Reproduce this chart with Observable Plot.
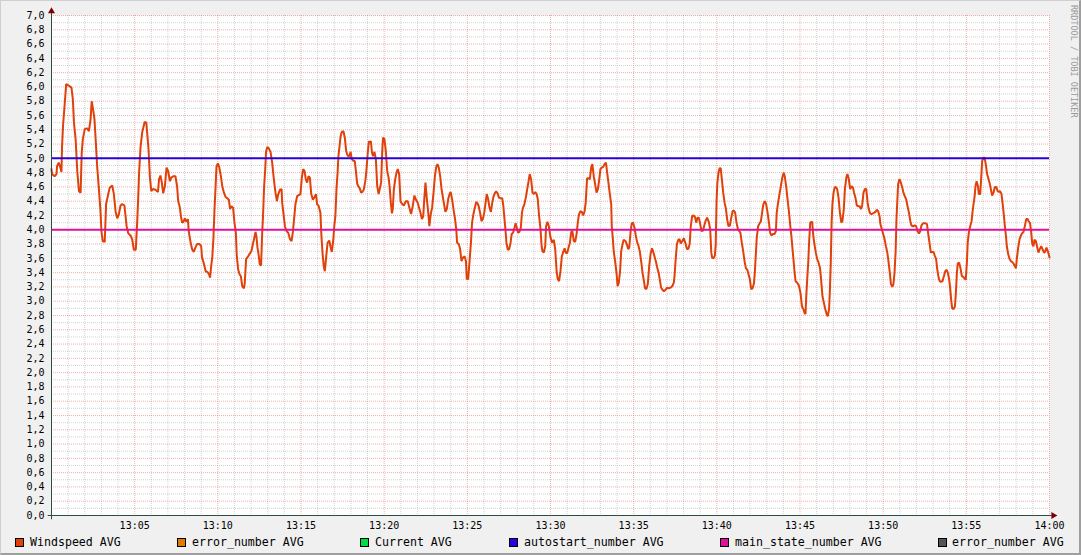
<!DOCTYPE html>
<html><head><meta charset="utf-8">
<script src="https://cdn.jsdelivr.net/npm/d3@7"></script>
<script src="https://cdn.jsdelivr.net/npm/@observablehq/plot@0.6"></script>
<style>
html,body{margin:0;padding:0;background:#f0f0f0;}
#wrap{position:relative;width:1081px;height:555px;overflow:hidden;background:#f0f0f0;font-family:"DejaVu Sans Mono",monospace;}
#chart{position:absolute;left:0;top:0;}
#chart svg{display:block;}
.frame{position:absolute;left:0;top:0;width:1081px;height:555px;box-sizing:border-box;border-style:solid;border-width:1px 2px 2px 1px;border-color:#cfcfcf #9e9e9e #9e9e9e #cfcfcf;pointer-events:none;}
.wm{position:absolute;left:1079px;top:5px;transform-origin:0 0;transform:rotate(90deg);font-size:8.5px;line-height:10px;color:#9a9a9a;white-space:nowrap;font-family:"DejaVu Sans Mono",monospace;}
.sw{position:absolute;top:538px;width:7px;height:7px;border:1px solid #000;}
.lt{position:absolute;top:536px;font-size:11.6px;line-height:12px;color:#000;white-space:pre;font-family:"DejaVu Sans Mono",monospace;}
</style></head>
<body>
<div id="wrap"><div id="chart"></div></div>
<script>
// seconds after 13:00, windspeed value
const windspeedA = [[0,4.85],[2,4.78],[11,4.75],[18,4.78],[20,4.89],[26,4.94],[32,4.87],[36,4.81],[38,5.17],[42,5.48],[47,5.73],[53,6.04],[62,6.02],[72,5.99],[77,5.83],[81,5.50],[87,5.27],[93,4.82],[99,4.54],[105,4.52],[109,5.08],[113,5.27],[120,5.41],[129,5.42],[135,5.38],[141,5.55],[145,5.80],[150,5.69],[155,5.55],[160,5.22],[165,4.87],[171,4.57],[177,4.24],[180,3.98],[185,3.84],[192,3.83],[197,4.36],[203,4.47],[210,4.59],[219,4.62],[225,4.50],[231,4.26],[237,4.16],[243,4.22],[249,4.34],[255,4.36],[263,4.34],[271,4.05],[277,3.95],[285,3.92],[291,3.87],[297,3.72],[304,3.72],[309,4.10],[313,4.47],[316,4.80],[321,5.15],[327,5.36],[336,5.51],[342,5.50],[345,5.36],[350,5.13],[355,4.73],[360,4.54],[366,4.57],[375,4.56],[384,4.53],[388,4.71],[393,4.76],[398,4.66],[403,4.51],[409,4.61],[415,4.87],[421,4.82],[427,4.68],[432,4.73],[439,4.75]];
const windspeedB = [[447,4.75],[453,4.61],[457,4.40],[462,4.33],[467,4.19],[471,4.10],[476,4.11],[481,4.16],[487,4.11],[492,4.15],[495,3.98],[501,3.84],[507,3.73],[513,3.69],[519,3.75],[525,3.80],[534,3.80],[540,3.77],[543,3.61],[550,3.52],[556,3.42],[562,3.41],[568,3.38],[572,3.33],[576,3.49],[580,3.62],[584,3.87],[588,4.29],[592,4.61],[595,4.88],[600,4.93],[605,4.88],[611,4.75],[616,4.61],[622,4.52],[628,4.46],[634,4.44],[640,4.42],[644,4.29],[649,4.33],[655,4.31],[660,4.10],[665,3.96],[668,3.66],[673,3.45],[678,3.38],[683,3.35],[688,3.21],[694,3.18],[697,3.25],[702,3.59],[708,3.62],[714,3.66],[721,3.70],[726,3.79],[731,3.88],[736,3.97],[739,3.91],[743,3.75],[748,3.63],[751,3.52],[756,3.50],[760,3.96],[763,4.19],[767,4.61],[771,4.85],[774,5.10],[779,5.16],[784,5.14],[790,5.09],[796,4.94],[802,4.71],[808,4.52],[813,4.40],[818,4.50],[824,4.56],[830,4.57],[832,4.38],[837,4.22],[842,4.05],[848,3.98],[854,3.96],[860,3.87],[866,3.84],[871,3.98],[875,4.15],[880,4.36],[886,4.47]];
const windspeedC = [[898,4.50],[903,4.73],[908,4.85],[913,4.82],[917,4.71],[922,4.66],[927,4.75],[932,4.73],[937,4.50],[943,4.42],[949,4.46],[954,4.50],[958,4.36],[964,4.33],[970,4.24],[974,3.89],[978,3.66],[982,3.49],[986,3.42],[991,3.63],[996,3.82],[1002,3.85],[1006,3.77],[1011,3.69],[1016,3.84],[1020,4.05],[1024,4.19],[1028,4.57],[1032,4.80],[1035,5.03],[1039,5.17],[1043,5.31],[1047,5.37],[1053,5.38],[1058,5.29],[1063,5.10],[1068,5.04],[1074,5.03],[1079,5.09],[1083,4.99],[1088,4.97],[1094,4.96],[1098,4.82],[1103,4.64],[1107,4.61],[1112,4.58],[1117,4.52],[1122,4.53],[1127,4.57],[1133,4.71],[1137,4.88],[1141,5.09],[1145,5.24],[1148,5.22],[1152,5.24],[1156,5.08],[1160,5.03],[1165,5.09],[1170,4.99],[1175,4.61],[1180,4.50],[1184,4.57],[1189,4.66],[1193,5.10],[1196,5.29],[1201,5.27],[1206,5.10],[1211,4.82],[1216,4.73],[1220,4.59],[1224,4.38],[1228,4.23],[1231,4.29],[1235,4.57],[1240,4.71],[1244,4.79],[1249,4.85],[1254,4.78],[1259,4.40],[1265,4.36],[1271,4.34],[1278,4.40],[1285,4.40],[1291,4.31],[1297,4.22],[1303,4.33],[1309,4.48],[1315,4.42],[1321,4.38],[1326,4.31],[1331,4.24],[1336,4.15],[1341,4.19],[1344,4.39]];
const windspeedD = [[1349,4.66],[1354,4.43],[1359,4.24],[1363,4.05],[1368,4.22],[1373,4.31],[1378,4.52],[1383,4.75],[1388,4.88],[1392,4.92],[1397,4.87],[1402,4.75],[1407,4.57],[1412,4.45],[1416,4.36],[1421,4.25],[1426,4.29],[1431,4.43],[1436,4.50],[1440,4.53],[1445,4.43],[1450,4.29],[1455,4.17],[1460,4.01],[1463,3.82],[1469,3.80],[1474,3.73],[1479,3.56],[1484,3.61],[1490,3.63],[1495,3.56],[1498,3.31],[1503,3.31],[1508,3.56],[1513,3.82],[1517,4.10],[1522,4.22],[1527,4.31],[1532,4.39],[1537,4.37],[1541,4.33],[1546,4.24],[1551,4.12],[1556,4.15],[1561,4.24],[1566,4.38],[1570,4.50],[1575,4.43],[1580,4.31],[1585,4.25],[1590,4.38],[1594,4.46],[1599,4.51],[1604,4.54],[1609,4.51],[1614,4.45],[1620,4.44],[1626,4.44],[1630,4.33],[1634,4.15],[1638,3.98],[1641,3.82],[1646,3.72],[1651,3.73],[1656,3.82],[1660,3.94],[1665,3.96],[1670,4.03],[1674,4.09],[1679,4.02],[1683,3.96],[1688,3.97],[1693,4.03],[1697,4.24],[1701,4.31],[1706,4.36],[1711,4.45],[1716,4.57],[1721,4.68],[1725,4.78],[1730,4.71],[1735,4.52],[1740,4.50],[1745,4.53],[1750,4.50],[1754,4.43],[1759,4.19],[1764,4.01],[1768,3.77],[1771,3.70],[1776,3.68],[1781,3.77],[1784,4.05],[1789,4.11],[1794,4.05]];
const windspeedE = [[1800,3.89],[1806,3.82],[1812,3.86],[1817,3.73],[1822,3.42],[1826,3.31],[1831,3.28],[1836,3.42],[1841,3.63],[1846,3.69],[1851,3.74],[1855,3.68],[1860,3.67],[1865,3.75],[1870,3.82],[1875,3.97],[1879,3.98],[1884,3.84],[1889,3.83],[1894,3.94],[1899,4.12],[1903,4.22],[1908,4.26],[1913,4.25],[1918,4.20],[1923,4.26],[1927,4.38],[1932,4.72],[1937,4.72],[1942,4.71],[1947,4.88],[1951,4.92],[1956,4.75],[1961,4.64],[1966,4.52],[1971,4.57],[1976,4.71],[1980,4.85],[1985,4.87],[1990,4.88],[1995,4.92],[2000,4.94],[2004,4.81],[2009,4.66],[2014,4.50],[2019,4.36],[2021,4.05],[2025,3.87],[2028,3.70],[2033,3.56],[2038,3.40],[2042,3.21],[2046,3.25],[2051,3.42],[2055,3.70],[2060,3.80],[2064,3.86],[2071,3.84],[2075,3.80],[2080,3.73],[2084,3.75],[2089,3.98],[2093,4.09],[2098,4.10],[2103,4.03],[2108,3.91],[2113,3.82],[2117,3.78],[2122,3.70],[2127,3.56],[2132,3.40],[2137,3.28],[2141,3.18],[2146,3.17],[2151,3.24],[2156,3.49],[2161,3.66],[2166,3.74],[2170,3.70],[2175,3.63],[2180,3.56],[2185,3.47],[2190,3.40],[2194,3.31],[2199,3.19],[2204,3.16],[2209,3.14],[2215,3.16],[2221,3.19],[2227,3.18],[2233,3.19],[2239,3.21],[2245,3.26],[2248,3.38]];
const windspeedF = [[2251,3.56],[2256,3.80],[2261,3.86],[2265,3.87],[2270,3.81],[2275,3.84],[2281,3.88],[2287,3.81],[2292,3.73],[2297,3.73],[2302,3.80],[2306,4.05],[2311,4.19],[2316,4.20],[2321,4.18],[2326,4.10],[2330,4.17],[2335,4.17],[2340,4.08],[2345,3.98],[2350,3.99],[2354,4.05],[2359,4.12],[2365,4.17],[2371,4.11],[2376,4.01],[2380,3.68],[2383,3.61],[2388,3.60],[2393,3.64],[2396,3.80],[2399,4.40],[2402,4.66],[2406,4.80],[2410,4.86],[2414,4.86],[2418,4.71],[2423,4.52],[2428,4.38],[2433,4.29],[2437,4.15],[2442,4.05],[2447,4.06],[2452,4.17],[2457,4.26],[2461,4.27],[2466,4.24],[2471,4.10],[2476,4.01],[2481,3.98],[2485,3.96],[2490,3.82],[2495,3.70],[2500,3.56],[2505,3.46],[2510,3.44],[2514,3.38],[2519,3.31],[2524,3.17],[2529,3.18],[2534,3.25],[2537,3.40],[2541,3.68],[2544,3.89],[2549,4.05],[2554,4.09],[2559,4.12],[2564,4.26],[2568,4.36],[2573,4.40],[2578,4.36],[2583,4.24],[2588,4.10],[2592,3.96],[2597,3.92],[2602,3.94],[2608,3.94],[2613,3.98],[2616,4.24],[2621,4.38],[2626,4.50],[2631,4.61],[2636,4.73],[2641,4.80],[2645,4.75],[2650,4.61],[2655,4.43],[2660,4.26],[2665,4.05],[2669,3.91],[2673,3.73],[2677,3.56],[2680,3.42],[2684,3.28],[2690,3.26],[2696,3.22]];
const windspeedG = [[2702,3.11],[2707,2.93],[2712,2.89],[2716,2.84],[2720,2.82],[2722,3.03],[2726,3.31],[2730,3.56],[2733,3.84],[2737,4.10],[2740,4.11],[2744,4.11],[2748,3.91],[2752,3.80],[2757,3.68],[2762,3.59],[2767,3.54],[2772,3.47],[2776,3.31],[2781,3.07],[2786,2.98],[2791,2.89],[2796,2.82],[2800,2.79],[2805,2.89],[2808,3.17],[2811,3.54],[2814,4.10],[2817,4.36],[2821,4.52],[2825,4.59],[2829,4.60],[2834,4.57],[2839,4.45],[2844,4.24],[2849,4.10],[2853,4.12],[2858,4.29],[2862,4.57],[2867,4.73],[2871,4.78],[2876,4.71],[2881,4.57],[2886,4.61],[2891,4.59],[2895,4.52],[2900,4.45],[2905,4.34],[2910,4.33],[2915,4.33],[2920,4.29],[2924,4.33],[2929,4.52],[2934,4.57],[2939,4.57],[2944,4.38],[2948,4.29],[2953,4.23],[2958,4.22],[2963,4.23],[2968,4.24],[2972,4.25],[2977,4.28],[2982,4.26],[2987,4.19],[2990,4.08],[2995,4.01],[3000,3.94],[3005,3.87],[3010,3.77],[3015,3.68],[3019,3.56],[3024,3.40],[3028,3.24],[3033,3.20],[3037,3.24],[3041,3.40],[3045,3.70],[3048,4.15],[3051,4.40],[3054,4.64],[3059,4.71],[3064,4.66],[3069,4.59],[3073,4.52],[3078,4.47],[3083,4.43],[3088,4.33],[3093,4.24],[3098,4.12],[3102,4.06],[3108,4.05],[3114,4.06],[3119,4.05],[3124,3.98],[3129,3.95],[3134,3.98],[3138,4.06],[3144,4.09]];
const windspeedH = [[3153,4.09],[3158,4.08],[3162,3.96],[3167,3.82],[3172,3.68],[3177,3.69],[3182,3.69],[3186,3.64],[3191,3.59],[3195,3.45],[3200,3.33],[3204,3.28],[3209,3.27],[3214,3.28],[3219,3.35],[3224,3.42],[3229,3.44],[3233,3.40],[3238,3.31],[3242,3.17],[3245,3.03],[3249,2.90],[3254,2.89],[3259,2.93],[3262,3.10],[3266,3.40],[3269,3.53],[3274,3.54],[3279,3.46],[3284,3.35],[3289,3.34],[3293,3.32],[3298,3.30],[3302,3.54],[3305,3.82],[3309,3.96],[3314,4.05],[3319,4.12],[3322,4.24],[3326,4.36],[3330,4.47],[3333,4.61],[3337,4.68],[3342,4.61],[3345,4.50],[3350,4.50],[3354,4.75],[3357,4.96],[3361,5.01],[3366,5.01],[3370,4.92],[3375,4.78],[3380,4.71],[3385,4.64],[3390,4.54],[3393,4.48],[3398,4.52],[3403,4.60],[3408,4.60],[3413,4.54],[3417,4.53],[3422,4.54],[3427,4.50],[3432,4.33],[3435,4.22],[3439,4.05],[3443,3.91],[3446,3.77],[3451,3.66],[3456,3.59],[3461,3.56],[3465,3.55],[3470,3.53],[3475,3.49],[3479,3.46],[3482,3.59],[3487,3.75],[3492,3.87],[3497,3.92],[3501,3.95],[3506,3.97],[3511,4.05],[3516,4.15],[3521,4.15],[3525,4.12],[3530,4.09],[3534,3.96],[3538,3.80],[3542,3.77],[3546,3.86],[3551,3.84],[3556,3.75],[3560,3.68],[3565,3.73],[3570,3.77],[3575,3.73],[3580,3.68],[3584,3.69],[3589,3.75],[3594,3.70],[3599,3.63],[3600,3.61]];

const autostartNumber = 5.0;
const mainStateNumber = 4.0;

const xTicks = [300,600,900,1200,1500,1800,2100,2400,2700,3000,3300,3600];
const xTickLabels = ["13:05","13:10","13:15","13:20","13:25","13:30","13:35","13:40","13:45","13:50","13:55","14:00"];
const yTicks = [0,0.2,0.4,0.6,0.8,1.0,1.2,1.4,1.6,1.8,2.0,2.2,2.4,2.6,2.8,3.0,3.2,3.4,3.6,3.8,4.0,4.2,4.4,4.6,4.8,5.0,5.2,5.4,5.6,5.8,6.0,6.2,6.4,6.6,6.8,7.0];

const legendLabels = ["Windspeed AVG","error_number AVG","Current AVG","autostart_number AVG","main_state_number AVG","error_number AVG"];
const legendColors = ["#e0400a","#e07a00","#00dd44","#2a00e0","#e0109a","#555555"];
const watermark = "RRDTOOL / TOBI OETIKER";

const windspeed = [...windspeedA,...windspeedB,...windspeedC,...windspeedD,...windspeedE,...windspeedF,...windspeedG,...windspeedH]
  .map(([t,v]) => ({t, v}));

const minorX = d3.range(60, 3600, 60).filter(t => t % 300 !== 0);
const minorY = d3.range(1, 70, 2).map(i => i / 10);
const majorY = yTicks.filter(d => d > 0);

const grid = {strokeDasharray: "1,1", strokeWidth: 1};

const plot = Plot.plot({
  width: 1081, height: 530,
  marginLeft: 51, marginRight: 32, marginTop: 15, marginBottom: 15,
  style: {background: "transparent", fontFamily: "'DejaVu Sans Mono', monospace", fontSize: "10px", color: "#000", overflow: "visible"},
  x: {domain: [0, 3600], axis: null},
  y: {domain: [0, 7], axis: null},
  marks: [
    Plot.frame({fill: "#ffffff", stroke: null}),
    Plot.ruleX(minorX, {...grid, stroke: "#8f8f8f", strokeOpacity: 0.4}),
    Plot.ruleY(minorY, {...grid, stroke: "#8f8f8f", strokeOpacity: 0.4}),
    Plot.ruleX(xTicks, {...grid, stroke: "#de5050", strokeOpacity: 0.45}),
    Plot.ruleY(majorY, {...grid, stroke: "#de5050", strokeOpacity: 0.45}),
    Plot.line(windspeed, {x: "t", y: "v", stroke: legendColors[0], strokeWidth: 2, strokeLinejoin: "miter"}),
    Plot.ruleY([autostartNumber], {stroke: legendColors[3], strokeWidth: 2}),
    Plot.ruleY([mainStateNumber], {stroke: legendColors[4], strokeWidth: 2}),
    Plot.ruleX([{x: 0, y1: -0.06, y2: 7.06}], {x: "x", y1: "y1", y2: "y2", stroke: "#2c4d43", strokeWidth: 1}),
    Plot.ruleY([{y: 0, x1: -12, x2: 3610}], {y: "y", x1: "x1", x2: "x2", stroke: "#2c4d43", strokeWidth: 1}),
    Plot.dot([{x: 0, y: 7.06}], {x: "x", y: "y", symbol: "triangle", r: 2.6, fill: "#7f0000", stroke: null}),
    Plot.dot([{x: 3614, y: 0}], {x: "x", y: "y", symbol: "triangle", r: 2.6, fill: "#7f0000", stroke: null, rotate: 90}),
    Plot.axisX({ticks: xTicks, tickFormat: d => xTickLabels[xTicks.indexOf(d)], tickSize: 0, tickPadding: 6, fill: "#000"}),
    Plot.axisY({ticks: yTicks, tickFormat: d => d.toFixed(1).replace(".", ","), tickSize: 0, tickPadding: 7, fill: "#000"})
  ]
});
document.getElementById("chart").appendChild(plot);

const wrap = document.getElementById("wrap");
const swatchX = [15, 177, 360, 509, 720, 938];
const textX = [30, 192, 375, 524, 735, 952];
legendLabels.forEach((label, i) => {
  const sw = document.createElement("div");
  sw.className = "sw";
  sw.style.left = swatchX[i] + "px";
  sw.style.background = legendColors[i];
  wrap.appendChild(sw);
  const tx = document.createElement("div");
  tx.className = "lt";
  tx.style.left = textX[i] + "px";
  tx.textContent = label;
  wrap.appendChild(tx);
});
const wm = document.createElement("div");
wm.className = "wm";
wm.textContent = watermark;
wrap.appendChild(wm);
const fr = document.createElement("div");
fr.className = "frame";
wrap.appendChild(fr);
</script>
</body></html>
